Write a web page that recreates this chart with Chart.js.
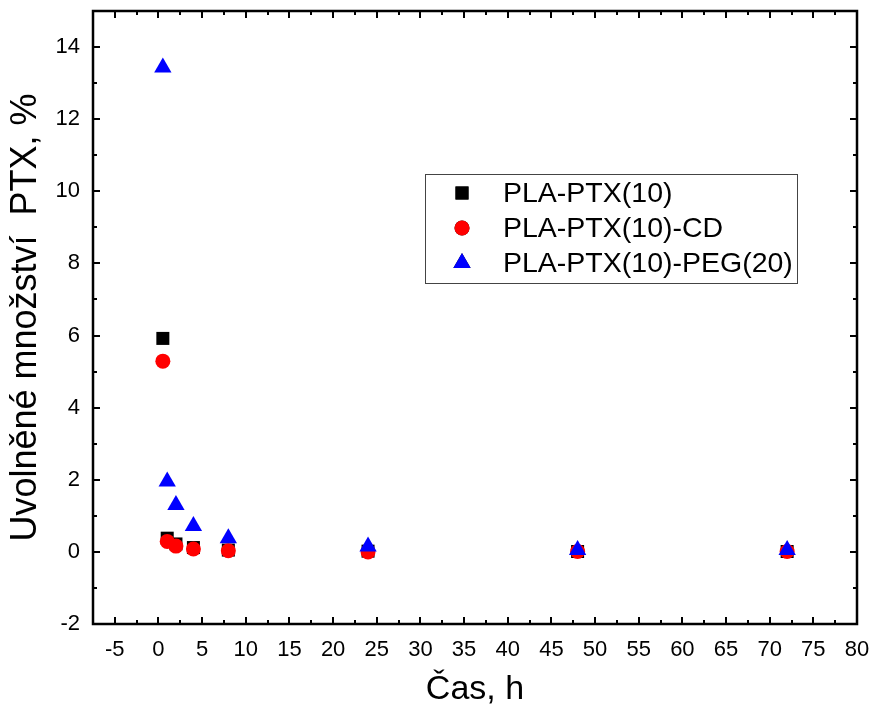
<!DOCTYPE html>
<html lang="cs">
<head>
    <meta charset="UTF-8">
    <title>Uvolněné množství PTX</title>
    <script src="https://cdn.jsdelivr.net/npm/chart.js"></script>
    <style>
        html, body { margin: 0; padding: 0; background: #fff; }
        #wrap { width: 876px; height: 716px; }
    </style>
</head>
<body>
    <div id="wrap"><canvas id="releaseChart" width="876" height="716"></canvas></div>

    <script>
        // sampling times (h)
        const times = [0.5, 1, 2, 4, 8, 24, 48, 72];
        // released PTX, %
        const plaPtx = [5.92, 0.38, 0.22, 0.12, 0.05, 0.02, 0.01, 0.01];
        const plaPtxCd = [5.29, 0.29, 0.16, 0.08, 0.03, 0.0, 0.01, 0.01];
        const plaPtxPeg = [13.43, 1.95, 1.3, 0.72, 0.38, 0.15, 0.05, 0.05];

        const seriesNames = ['PLA-PTX(10)', 'PLA-PTX(10)-CD', 'PLA-PTX(10)-PEG(20)'];
        const xTicks = [-5, 0, 5, 10, 15, 20, 25, 30, 35, 40, 45, 50, 55, 60, 65, 70, 75, 80];
        const yTicks = [-2, 0, 2, 4, 6, 8, 10, 12, 14];

        const FONT = "'Liberation Sans', Arial, sans-serif";

        function toPoints(ys) {
            return times.map((t, i) => ({ x: t, y: ys[i] }));
        }

        // frame + inward ticks on all four sides
        const framePlugin = {
            id: 'frame',
            afterDraw(chart) {
                const { ctx, chartArea: a, scales: { x, y } } = chart;
                ctx.save();
                ctx.strokeStyle = '#000';
                ctx.lineWidth = 2;
                ctx.beginPath();
                for (let v = -7.5; v <= 80; v += 2.5) {
                    const px = Math.round(x.getPixelForValue(v));
                    const len = (v % 5 === 0) ? 7 : 4;
                    ctx.moveTo(px, a.bottom); ctx.lineTo(px, a.bottom - len);
                    ctx.moveTo(px, a.top); ctx.lineTo(px, a.top + len);
                }
                for (let v = -2; v <= 15; v += 1) {
                    const py = Math.round(y.getPixelForValue(v));
                    const len = (v % 2 === 0) ? 7 : 4;
                    ctx.moveTo(a.left, py); ctx.lineTo(a.left + len, py);
                    ctx.moveTo(a.right, py); ctx.lineTo(a.right - len, py);
                }
                ctx.stroke();
                ctx.lineWidth = 2.5;
                ctx.strokeRect(a.left, a.top, a.right - a.left, a.bottom - a.top);
                ctx.restore();
            }
        };

        // boxed legend inside the plot
        const boxLegend = {
            id: 'boxLegend',
            afterDraw(chart) {
                const { ctx } = chart;
                ctx.save();
                ctx.strokeStyle = '#444';
                ctx.lineWidth = 1;
                ctx.strokeRect(425.5, 174.5, 372, 109);
                ctx.font = '28.5px ' + FONT;
                ctx.textBaseline = 'middle';
                ctx.fillStyle = '#000';
                const rows = [193, 228, 263];
                chart.data.datasets.forEach((ds, i) => {
                    Chart.helpers.drawPoint(ctx, {
                        pointStyle: ds.pointStyle,
                        radius: ds.pointRadius,
                        borderWidth: 0
                    }, 462, rows[i]);
                    ctx.fillStyle = ds.backgroundColor;
                    ctx.fill();
                    ctx.fillStyle = '#000';
                    ctx.fillText(ds.label, 503, rows[i] + 1);
                });
                ctx.restore();
            }
        };

        const ctx = document.getElementById('releaseChart').getContext('2d');
        new Chart(ctx, {
            type: 'scatter',
            data: {
                datasets: [
                    {
                        label: seriesNames[0],
                        data: toPoints(plaPtx),
                        pointStyle: 'rect',
                        pointRadius: 9.2,
                        backgroundColor: '#000000',
                        borderWidth: 0,
                        order: 3
                    },
                    {
                        label: seriesNames[1],
                        data: toPoints(plaPtxCd),
                        pointStyle: 'circle',
                        pointRadius: 7.5,
                        backgroundColor: '#ff0000',
                        borderWidth: 0,
                        order: 2
                    },
                    {
                        label: seriesNames[2],
                        data: toPoints(plaPtxPeg),
                        pointStyle: 'triangle',
                        pointRadius: 10,
                        backgroundColor: '#0000ff',
                        borderWidth: 0,
                        order: 1
                    }
                ]
            },
            options: {
                responsive: false,
                animation: false,
                events: [],
                layout: { padding: { top: 11, right: 19, left: 0, bottom: 0 } },
                plugins: {
                    legend: { display: false },
                    tooltip: { enabled: false }
                },
                scales: {
                    x: {
                        type: 'linear',
                        min: -7.5,
                        max: 80,
                        afterBuildTicks: s => { s.ticks = xTicks.map(v => ({ value: v })); },
                        afterFit: s => { s.height = 92; s.paddingLeft = 0; s.paddingRight = 0; },
                        grid: { display: false, drawTicks: false },
                        border: { display: false },
                        ticks: {
                            padding: 13,
                            maxRotation: 0,
                            autoSkip: false,
                            color: '#000',
                            font: { family: FONT, size: 22 }
                        },
                        title: {
                            display: true,
                            text: 'Čas, h',
                            color: '#000',
                            font: { family: FONT, size: 34 },
                            padding: { top: 0, bottom: 6 }
                        }
                    },
                    y: {
                        type: 'linear',
                        min: -2,
                        max: 15,
                        afterBuildTicks: s => { s.ticks = yTicks.map(v => ({ value: v })); },
                        afterFit: s => { s.width = 93; s.paddingTop = 0; s.paddingBottom = 0; },
                        grid: { display: false, drawTicks: false },
                        border: { display: false },
                        ticks: {
                            padding: 13,
                            color: '#000',
                            font: { family: FONT, size: 22 }
                        },
                        title: {
                            display: true,
                            text: 'Uvolněné množství  PTX, %',
                            color: '#000',
                            font: { family: FONT, size: 36 },
                            padding: { top: 4, bottom: 0 }
                        }
                    }
                }
            },
            plugins: [framePlugin, boxLegend]
        });
    </script>
</body>
</html>
